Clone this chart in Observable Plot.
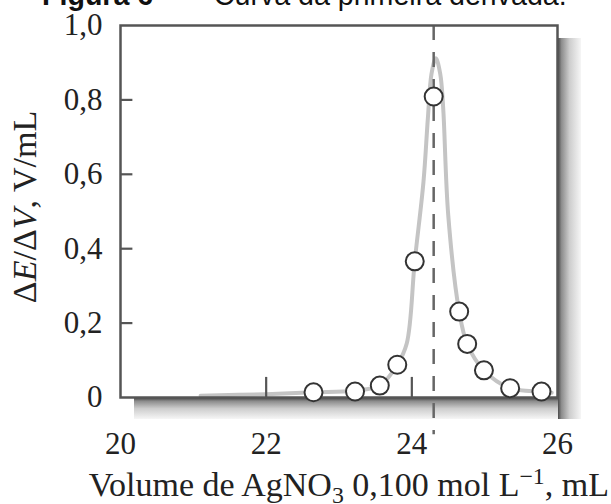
<!DOCTYPE html>
<html>
<head>
<meta charset="utf-8">
<script src="https://cdn.jsdelivr.net/npm/d3@7"></script>
<script src="https://cdn.jsdelivr.net/npm/@observablehq/plot@0.6"></script>
<style>
  html, body { margin: 0; padding: 0; background: #fff; }
  #wrap { position: relative; width: 611px; height: 504px; overflow: hidden; background: #fff; }
  #title { position: absolute; left: 42px; top: -19px; font-family: "Liberation Sans", Arial, sans-serif;
           font-size: 28.6px; line-height: 28px; color: #111; white-space: nowrap; }
  #title b { font-weight: bold; }
  #chart { position: absolute; left: 0; top: 0; }
</style>
</head>
<body>
<div id="wrap">
  <div id="chart"></div>
  <div id="title"><b>Figura 6</b><span style="margin-left:24px">—</span><span style="margin-left:8px">Curva da primeira derivada.</span></div>
</div>
<script>
// ---- data ----
const xTicks = [20, 22, 24, 26];
const yTicks = [0, 0.2, 0.4, 0.6, 0.8, 1.0];
const innerXTicks = [22, 24];
const innerYTicks = [0.2, 0.4, 0.6, 0.8];
const endPointV = 24.3;

// measured derivative points (open circles)
const ptX = [22.65, 23.22, 23.56, 23.80, 24.04, 24.30, 24.65, 24.76, 24.99, 25.35, 25.78];
const ptY = [0.014, 0.016, 0.032, 0.088, 0.366, 0.809, 0.231, 0.144, 0.073, 0.025, 0.016];

// smooth gray curve
const curveX = [21.1, 22.0, 22.65, 23.2, 23.56, 23.80, 23.93, 24.04, 24.16, 24.22, 24.27, 24.33, 24.39, 24.43, 24.50, 24.65, 24.76, 24.99, 25.35, 25.78, 25.92];
const curveY = [0.005, 0.009, 0.014, 0.018, 0.032, 0.088, 0.145, 0.366, 0.58, 0.75, 0.87, 0.912, 0.87, 0.78, 0.49, 0.231, 0.144, 0.073, 0.025, 0.016, 0.013];

const points = ptX.map((x, i) => ({x, y: ptY[i]}));
const curve = curveX.map((x, i) => ({x, y: curveY[i]}));

const fmt = d => d === 0 ? "0" : d.toFixed(1).replace(".", ",");
const FS = 31;      // tick labels
const FT = 34;      // axis titles
const serif = "Liberation Serif, Times New Roman, serif";

const plot = Plot.plot({
  width: 611,
  height: 504,
  marginLeft: 120,
  marginRight: 54,
  marginTop: 25,
  marginBottom: 107,
  style: {fontFamily: serif, fontSize: FS + "px", color: "#222", background: "transparent", overflow: "visible"},
  x: {domain: [20, 26]},
  y: {domain: [0, 1]},
  marks: [
    Plot.line(curve, {x: "x", y: "y", curve: "catmull-rom", stroke: "#c4c4c4", strokeWidth: 4, clip: false}),
    Plot.ruleX([endPointV], {y1: 1.0, y2: -0.1, stroke: "#666", strokeWidth: 2.5, strokeDasharray: "15,12"}),
    Plot.ruleX(innerXTicks, {y1: 0, y2: 0.054, stroke: "#555", strokeWidth: 2.2}),
    Plot.ruleY(innerYTicks, {x1: 20, x2: 20.17, stroke: "#555", strokeWidth: 2.2}),
    Plot.frame({stroke: "#555", strokeWidth: 2.5}),
    Plot.axisX({ticks: xTicks, tickSize: 0, tickPadding: 34, fontSize: FS, label: null, tickFormat: d => String(d)}),
    Plot.axisY({ticks: yTicks, tickSize: 0, tickPadding: 18, fontSize: FS, label: null, tickFormat: fmt}),
    Plot.dot(points, {x: "x", y: "y", r: 9, fill: "white", stroke: "#333", strokeWidth: 2})
  ]
});

document.getElementById("chart").appendChild(plot);

// ---- decorations: drop shadow of the frame and rich-text axis titles ----
const svg = d3.select(plot);
const sx = plot.scale("x"), sy = plot.scale("y");
const xL = sx.apply(20), xR = sx.apply(26), yB = sy.apply(0), yT = sy.apply(1);

const defs = svg.insert("defs", ":first-child");
const gH = defs.append("linearGradient").attr("id", "shR").attr("x1", 0).attr("x2", 1).attr("y1", 0).attr("y2", 0);
const gV = defs.append("linearGradient").attr("id", "shB").attr("x1", 0).attr("x2", 0).attr("y1", 0).attr("y2", 1);
for (const g of [gH, gV]) {
  [[0, "#4a4a4a"], [0.15, "#8c8c8c"], [0.5, "#cdcdcd"], [1, "#f6f6f6"]].forEach(([o, c]) =>
    g.append("stop").attr("offset", o).attr("stop-color", c));
}
const shadow = svg.insert("g", "defs + *");
shadow.append("rect").attr("x", xL + 14).attr("y", yB + 1).attr("width", xR - xL - 13).attr("height", 21).attr("fill", "url(#shB)");
shadow.append("rect").attr("x", xR + 1).attr("y", yT + 13).attr("width", 23).attr("height", yB - yT + 9).attr("fill", "url(#shR)");

// x axis title
const xt = svg.append("text").attr("x", 609).attr("y", 496).attr("text-anchor", "end")
  .attr("font-family", serif).attr("font-size", FT).attr("fill", "#222");
xt.append("tspan").text("Volume de AgNO");
xt.append("tspan").attr("font-size", FT * 0.7).attr("dy", 7).text("3");
xt.append("tspan").attr("dy", -7).text(" 0,100 mol L");
xt.append("tspan").attr("font-size", FT * 0.7).attr("dy", -12).text("−1");
xt.append("tspan").attr("dy", 12).text(", mL");

// y axis title
const yt = svg.append("text").attr("transform", "translate(36,207) rotate(-90)").attr("text-anchor", "middle")
  .attr("font-family", serif).attr("font-size", FT).attr("fill", "#222");
yt.append("tspan").text("Δ");
yt.append("tspan").attr("font-style", "italic").text("E");
yt.append("tspan").text("/Δ");
yt.append("tspan").attr("font-style", "italic").text("V");
yt.append("tspan").text(", V/mL");
</script>
</body>
</html>
